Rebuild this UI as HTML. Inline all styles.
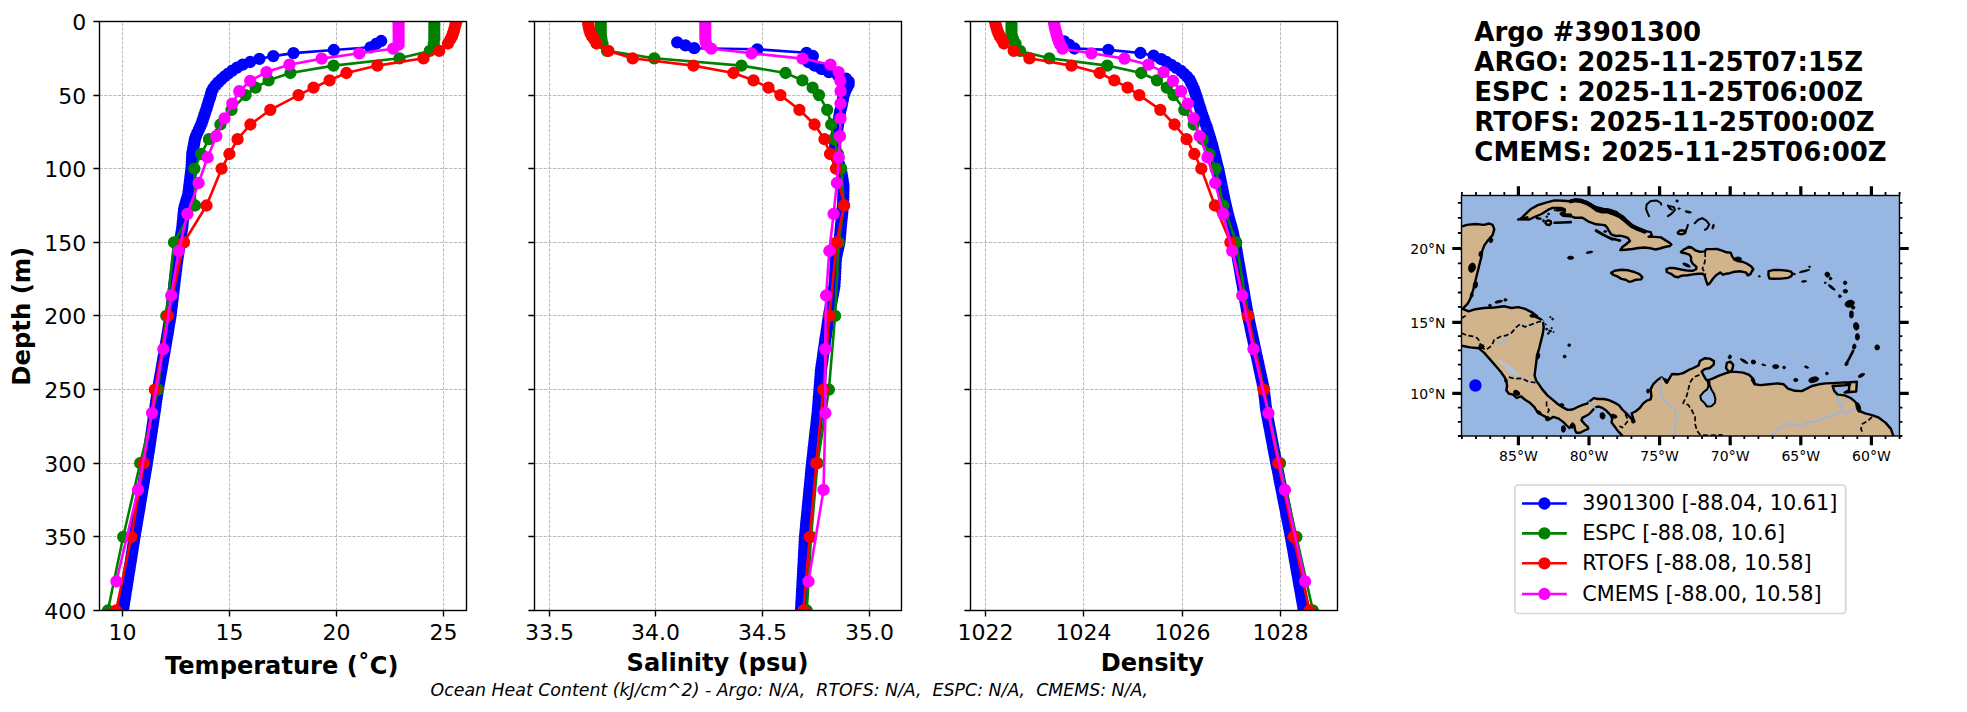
<!DOCTYPE html>
<html lang="en"><head><meta charset="utf-8"><title>Argo #3901300</title>
<style>html,body{margin:0;padding:0;background:#fff}svg{display:block}</style></head>
<body>
<svg width="1967" height="712" viewBox="0 0 1967 712" font-family="'DejaVu Sans', 'Liberation Sans', sans-serif">
<rect width="1967" height="712" fill="#fff"/>
<clipPath id="c0"><rect x="99.5" y="21.5" width="367.0" height="589.0"/></clipPath>
<path d="M122.50 610.5V21.5M229.50 610.5V21.5M336.50 610.5V21.5M443.50 610.5V21.5M99.5 95.50H466.5M99.5 168.50H466.5M99.5 242.50H466.5M99.5 315.50H466.5M99.5 389.50H466.5M99.5 463.50H466.5M99.5 536.50H466.5" stroke="#b0b0b0" stroke-width="0.87" stroke-dasharray="3.2 1.4" fill="none"/>
<g clip-path="url(#c0)">
<polyline fill="none" stroke="#0000ff" stroke-width="2.60" stroke-linejoin="round" points="381.2,41.0 376.5,43.7 370.5,47.3 333.8,50.0 293.5,53.1 273.3,56.1 259.4,58.9 250.2,62.0 242.7,64.7 237.0,67.7 232.3,70.6 228.2,73.6 224.6,76.5 221.2,79.5 218.2,82.4 215.5,85.4 213.3,88.3 211.7,91.3 210.9,94.2 210.1,97.2 209.1,100.1 208.2,103.1 207.3,106.0 206.4,109.0 205.4,111.9 204.4,114.9 203.5,117.8 202.5,120.8 201.5,123.7 200.2,126.7 198.9,129.6 197.5,132.6 196.2,135.5 195.1,138.5 194.5,141.4 194.0,144.4 193.4,147.3 192.9,150.3 192.3,153.2 192.1,156.2 192.0,159.1 191.8,162.1 191.7,165.0 191.5,168.0 191.2,170.9 190.8,173.9 190.4,176.8 190.1,179.8 189.7,182.7 189.3,185.7 189.0,188.6 188.6,191.6 188.2,194.5 187.3,197.5 186.4,200.4 185.6,203.4 184.7,206.3 184.1,209.3 183.8,212.2 183.5,215.2 183.2,218.1 182.9,221.1 182.6,224.0 182.3,227.0 181.9,229.9 181.4,232.9 181.0,235.8 180.5,238.8 180.0,241.7 179.6,244.7 179.1,247.6 178.7,250.6 178.2,253.5 177.8,256.5 177.4,259.4 177.0,262.4 176.6,265.3 176.3,268.3 175.9,271.2 175.6,274.2 175.2,277.1 174.9,280.1 174.5,283.0 174.2,286.0 173.8,288.9 173.5,291.9 173.1,294.8 172.8,297.8 172.4,300.7 172.0,303.7 171.7,306.6 171.3,309.6 171.0,312.5 170.6,315.5 170.1,318.4 169.6,321.4 169.1,324.3 168.6,327.3 168.2,330.2 167.7,333.2 167.2,336.1 166.7,339.1 166.2,342.0 165.7,345.0 165.2,347.9 164.7,350.9 164.2,353.8 163.6,356.8 163.1,359.7 162.6,362.7 162.1,365.6 161.6,368.6 161.1,371.5 160.5,374.5 160.0,377.4 159.5,380.4 159.0,383.3 158.5,386.3 158.0,389.2 157.5,392.2 157.1,395.1 156.7,398.1 156.2,401.0 155.8,404.0 155.4,406.9 155.0,409.9 154.5,412.8 154.1,415.8 153.6,418.7 153.2,421.7 152.8,424.6 152.3,427.6 151.9,430.5 151.4,433.5 151.0,436.4 150.5,439.4 150.1,442.3 149.7,445.3 149.2,448.2 148.8,451.2 148.3,454.1 147.9,457.1 147.4,460.0 147.0,463.0 146.5,465.9 146.0,468.9 145.5,471.8 145.0,474.8 144.5,477.7 144.0,480.7 143.5,483.6 143.0,486.6 142.5,489.5 142.0,492.5 141.5,495.4 141.0,498.4 140.5,501.3 140.0,504.3 139.6,507.2 139.1,510.2 138.6,513.1 138.1,516.1 137.6,519.0 137.1,522.0 136.6,524.9 136.1,527.9 135.6,530.8 135.1,533.8 134.6,536.7 134.1,539.7 133.7,542.6 133.2,545.6 132.7,548.5 132.3,551.5 131.8,554.4 131.3,557.4 130.9,560.3 130.4,563.3 129.9,566.2 129.5,569.2 129.0,572.1 128.5,575.1 128.1,578.0 127.6,581.0 127.1,583.9 126.7,586.9 126.2,589.8 125.7,592.8 125.3,595.7 124.8,598.7 124.3,601.6 123.9,604.6 123.4,607.5"/><path d="M381.2 41.0h0M376.5 43.7h0M370.5 47.3h0M333.8 50.0h0M293.5 53.1h0M273.3 56.1h0M259.4 58.9h0M250.2 62.0h0M242.7 64.7h0M237.0 67.7h0M232.3 70.6h0M228.2 73.6h0M224.6 76.5h0M221.2 79.5h0M218.2 82.4h0M215.5 85.4h0M213.3 88.3h0M211.7 91.3h0M210.9 94.2h0M210.1 97.2h0M209.1 100.1h0M208.2 103.1h0M207.3 106.0h0M206.4 109.0h0M205.4 111.9h0M204.4 114.9h0M203.5 117.8h0M202.5 120.8h0M201.5 123.7h0M200.2 126.7h0M198.9 129.6h0M197.5 132.6h0M196.2 135.5h0M195.1 138.5h0M194.5 141.4h0M194.0 144.4h0M193.4 147.3h0M192.9 150.3h0M192.3 153.2h0M192.1 156.2h0M192.0 159.1h0M191.8 162.1h0M191.7 165.0h0M191.5 168.0h0M191.2 170.9h0M190.8 173.9h0M190.4 176.8h0M190.1 179.8h0M189.7 182.7h0M189.3 185.7h0M189.0 188.6h0M188.6 191.6h0M188.2 194.5h0M187.3 197.5h0M186.4 200.4h0M185.6 203.4h0M184.7 206.3h0M184.1 209.3h0M183.8 212.2h0M183.5 215.2h0M183.2 218.1h0M182.9 221.1h0M182.6 224.0h0M182.3 227.0h0M181.9 229.9h0M181.4 232.9h0M181.0 235.8h0M180.5 238.8h0M180.0 241.7h0M179.6 244.7h0M179.1 247.6h0M178.7 250.6h0M178.2 253.5h0M177.8 256.5h0M177.4 259.4h0M177.0 262.4h0M176.6 265.3h0M176.3 268.3h0M175.9 271.2h0M175.6 274.2h0M175.2 277.1h0M174.9 280.1h0M174.5 283.0h0M174.2 286.0h0M173.8 288.9h0M173.5 291.9h0M173.1 294.8h0M172.8 297.8h0M172.4 300.7h0M172.0 303.7h0M171.7 306.6h0M171.3 309.6h0M171.0 312.5h0M170.6 315.5h0M170.1 318.4h0M169.6 321.4h0M169.1 324.3h0M168.6 327.3h0M168.2 330.2h0M167.7 333.2h0M167.2 336.1h0M166.7 339.1h0M166.2 342.0h0M165.7 345.0h0M165.2 347.9h0M164.7 350.9h0M164.2 353.8h0M163.6 356.8h0M163.1 359.7h0M162.6 362.7h0M162.1 365.6h0M161.6 368.6h0M161.1 371.5h0M160.5 374.5h0M160.0 377.4h0M159.5 380.4h0M159.0 383.3h0M158.5 386.3h0M158.0 389.2h0M157.5 392.2h0M157.1 395.1h0M156.7 398.1h0M156.2 401.0h0M155.8 404.0h0M155.4 406.9h0M155.0 409.9h0M154.5 412.8h0M154.1 415.8h0M153.6 418.7h0M153.2 421.7h0M152.8 424.6h0M152.3 427.6h0M151.9 430.5h0M151.4 433.5h0M151.0 436.4h0M150.5 439.4h0M150.1 442.3h0M149.7 445.3h0M149.2 448.2h0M148.8 451.2h0M148.3 454.1h0M147.9 457.1h0M147.4 460.0h0M147.0 463.0h0M146.5 465.9h0M146.0 468.9h0M145.5 471.8h0M145.0 474.8h0M144.5 477.7h0M144.0 480.7h0M143.5 483.6h0M143.0 486.6h0M142.5 489.5h0M142.0 492.5h0M141.5 495.4h0M141.0 498.4h0M140.5 501.3h0M140.0 504.3h0M139.6 507.2h0M139.1 510.2h0M138.6 513.1h0M138.1 516.1h0M137.6 519.0h0M137.1 522.0h0M136.6 524.9h0M136.1 527.9h0M135.6 530.8h0M135.1 533.8h0M134.6 536.7h0M134.1 539.7h0M133.7 542.6h0M133.2 545.6h0M132.7 548.5h0M132.3 551.5h0M131.8 554.4h0M131.3 557.4h0M130.9 560.3h0M130.4 563.3h0M129.9 566.2h0M129.5 569.2h0M129.0 572.1h0M128.5 575.1h0M128.1 578.0h0M127.6 581.0h0M127.1 583.9h0M126.7 586.9h0M126.2 589.8h0M125.7 592.8h0M125.3 595.7h0M124.8 598.7h0M124.3 601.6h0M123.9 604.6h0M123.4 607.5h0" fill="none" stroke="#0000ff" stroke-width="12.30" stroke-linecap="round"/>
<polyline fill="none" stroke="#008000" stroke-width="2.60" stroke-linejoin="round" points="434.3,21.4 434.3,24.4 434.3,27.3 434.3,30.3 434.3,33.2 434.3,36.2 434.3,39.1 433.8,43.5 429.8,50.9 399.5,58.3 333.5,65.6 290.4,73.0 268.6,80.3 255.6,87.7 245.6,95.1 231.5,109.8 220.4,124.5 209.0,139.2 201.1,154.0 194.4,168.7 195.1,205.5 174.0,242.3 166.3,315.9 158.0,389.6 140.2,463.2 123.2,536.8 107.9,610.5"/><path d="M434.3 21.4h0M434.3 24.4h0M434.3 27.3h0M434.3 30.3h0M434.3 33.2h0M434.3 36.2h0M434.3 39.1h0M433.8 43.5h0M429.8 50.9h0M399.5 58.3h0M333.5 65.6h0M290.4 73.0h0M268.6 80.3h0M255.6 87.7h0M245.6 95.1h0M231.5 109.8h0M220.4 124.5h0M209.0 139.2h0M201.1 154.0h0M194.4 168.7h0M195.1 205.5h0M174.0 242.3h0M166.3 315.9h0M158.0 389.6h0M140.2 463.2h0M123.2 536.8h0M107.9 610.5h0" fill="none" stroke="#008000" stroke-width="12.30" stroke-linecap="round"/>
<polyline fill="none" stroke="#ff0000" stroke-width="2.60" stroke-linejoin="round" points="456.4,21.4 455.6,24.4 454.8,27.3 454.0,30.3 453.0,33.2 452.0,36.2 450.5,39.1 448.0,43.5 439.3,50.9 423.5,58.3 377.4,65.6 346.4,73.0 329.6,80.3 313.5,87.7 298.5,95.1 270.3,109.8 250.4,124.5 237.6,139.2 229.4,154.0 221.6,168.7 206.5,205.5 184.0,242.3 168.0,315.9 154.8,389.6 143.8,463.2 131.4,536.8 116.1,610.5"/><path d="M456.4 21.4h0M455.6 24.4h0M454.8 27.3h0M454.0 30.3h0M453.0 33.2h0M452.0 36.2h0M450.5 39.1h0M448.0 43.5h0M439.3 50.9h0M423.5 58.3h0M377.4 65.6h0M346.4 73.0h0M329.6 80.3h0M313.5 87.7h0M298.5 95.1h0M270.3 109.8h0M250.4 124.5h0M237.6 139.2h0M229.4 154.0h0M221.6 168.7h0M206.5 205.5h0M184.0 242.3h0M168.0 315.9h0M154.8 389.6h0M143.8 463.2h0M131.4 536.8h0M116.1 610.5h0" fill="none" stroke="#ff0000" stroke-width="12.30" stroke-linecap="round"/>
<polyline fill="none" stroke="#ff00ff" stroke-width="2.60" stroke-linejoin="round" points="398.6,22.2 398.6,23.7 398.6,25.4 398.6,27.1 398.6,28.9 398.6,30.9 398.6,33.1 398.6,35.5 398.6,38.2 398.6,41.3 398.6,44.7 393.2,48.7 359.3,53.3 321.7,58.6 289.4,64.7 266.5,72.1 250.2,80.8 239.3,91.2 232.3,103.6 224.5,118.3 216.3,136.2 207.6,157.4 198.6,183.0 187.4,213.9 178.7,251.0 171.2,295.5 163.3,349.1 152.0,413.1 138.0,489.9 116.4,581.3"/><path d="M398.6 22.2h0M398.6 23.7h0M398.6 25.4h0M398.6 27.1h0M398.6 28.9h0M398.6 30.9h0M398.6 33.1h0M398.6 35.5h0M398.6 38.2h0M398.6 41.3h0M398.6 44.7h0M393.2 48.7h0M359.3 53.3h0M321.7 58.6h0M289.4 64.7h0M266.5 72.1h0M250.2 80.8h0M239.3 91.2h0M232.3 103.6h0M224.5 118.3h0M216.3 136.2h0M207.6 157.4h0M198.6 183.0h0M187.4 213.9h0M178.7 251.0h0M171.2 295.5h0M163.3 349.1h0M152.0 413.1h0M138.0 489.9h0M116.4 581.3h0" fill="none" stroke="#ff00ff" stroke-width="12.30" stroke-linecap="round"/>
</g>
<rect x="99.5" y="21.5" width="367.0" height="589.0" fill="none" stroke="#000" stroke-width="1.39"/>
<path d="M122.50 610.5v6.1M229.50 610.5v6.1M336.50 610.5v6.1M443.50 610.5v6.1M99.5 21.50h-6.1M99.5 95.50h-6.1M99.5 168.50h-6.1M99.5 242.50h-6.1M99.5 315.50h-6.1M99.5 389.50h-6.1M99.5 463.50h-6.1M99.5 536.50h-6.1M99.5 610.50h-6.1" stroke="#000" stroke-width="1.39" fill="none"/>
<text x="122.5" y="639.8" font-size="22.0" text-anchor="middle">10</text>
<text x="229.5" y="639.8" font-size="22.0" text-anchor="middle">15</text>
<text x="336.5" y="639.8" font-size="22.0" text-anchor="middle">20</text>
<text x="443.5" y="639.8" font-size="22.0" text-anchor="middle">25</text>
<text x="86.3" y="30.4" font-size="22.0" text-anchor="end">0</text>
<text x="86.3" y="104.4" font-size="22.0" text-anchor="end">50</text>
<text x="86.3" y="177.4" font-size="22.0" text-anchor="end">100</text>
<text x="86.3" y="251.4" font-size="22.0" text-anchor="end">150</text>
<text x="86.3" y="324.4" font-size="22.0" text-anchor="end">200</text>
<text x="86.3" y="398.4" font-size="22.0" text-anchor="end">250</text>
<text x="86.3" y="472.4" font-size="22.0" text-anchor="end">300</text>
<text x="86.3" y="545.4" font-size="22.0" text-anchor="end">350</text>
<text x="86.3" y="619.4" font-size="22.0" text-anchor="end">400</text>
<text x="281.7" y="673.6" font-size="24.1" font-weight="bold" text-anchor="middle">Temperature (˚C)</text>
<clipPath id="c1"><rect x="534.5" y="21.5" width="367.0" height="589.0"/></clipPath>
<path d="M549.50 610.5V21.5M655.50 610.5V21.5M762.50 610.5V21.5M869.50 610.5V21.5M534.5 95.50H901.5M534.5 168.50H901.5M534.5 242.50H901.5M534.5 315.50H901.5M534.5 389.50H901.5M534.5 463.50H901.5M534.5 536.50H901.5" stroke="#b0b0b0" stroke-width="0.87" stroke-dasharray="3.2 1.4" fill="none"/>
<g clip-path="url(#c1)">
<polyline fill="none" stroke="#0000ff" stroke-width="2.60" stroke-linejoin="round" points="677.2,42.3 685.4,45.3 694.2,48.2 757.3,49.3 806.5,52.8 812.9,56.0 810.5,58.9 808.6,62.2 814.5,65.5 821.3,68.8 828.9,72.1 838.0,75.4 846.0,78.7 848.7,81.7 848.6,84.6 847.0,87.6 845.5,90.5 844.4,93.5 843.4,96.4 842.9,99.4 842.3,102.3 841.7,105.3 841.0,108.2 840.2,111.2 839.7,114.1 839.2,117.1 838.8,120.0 838.3,123.0 837.9,125.9 837.4,128.9 837.0,131.8 836.5,134.8 836.1,137.7 835.7,140.7 835.2,143.6 835.2,146.6 835.5,149.5 835.7,152.5 836.1,155.4 837.1,158.4 838.1,161.3 839.1,164.3 840.1,167.2 841.0,170.2 841.5,173.1 842.0,176.1 842.5,179.0 842.9,182.0 843.4,184.9 843.5,187.9 843.4,190.8 843.4,193.8 843.3,196.7 843.2,199.7 843.1,202.6 842.9,205.6 842.6,208.5 842.4,211.5 842.1,214.4 841.8,217.4 841.5,220.3 841.2,223.3 840.9,226.2 840.6,229.2 840.4,232.1 840.1,235.1 839.9,238.0 839.6,241.0 839.1,243.9 838.4,246.9 837.8,249.8 837.1,252.8 836.5,255.7 836.0,258.7 835.8,261.6 835.6,264.6 835.5,267.5 835.3,270.5 835.2,273.4 835.0,276.4 834.9,279.3 834.7,282.3 834.5,285.2 834.1,288.2 833.5,291.1 833.0,294.1 832.4,297.0 831.9,300.0 831.3,302.9 830.7,305.9 830.2,308.8 829.6,311.8 829.1,314.7 828.6,317.7 828.2,320.6 827.7,323.6 827.3,326.5 826.9,329.5 826.4,332.4 826.0,335.4 825.5,338.3 825.1,341.3 824.7,344.2 824.3,347.2 823.8,350.1 823.4,353.1 823.0,356.0 822.6,359.0 822.2,361.9 821.7,364.9 821.3,367.8 820.9,370.8 820.7,373.7 820.5,376.7 820.2,379.6 820.0,382.6 819.8,385.5 819.5,388.5 819.3,391.4 819.1,394.4 818.8,397.3 818.6,400.3 818.4,403.2 818.1,406.2 817.9,409.1 817.7,412.1 817.4,415.0 817.0,418.0 816.7,420.9 816.4,423.9 816.1,426.8 815.7,429.8 815.4,432.7 815.1,435.7 814.7,438.6 814.4,441.6 814.1,444.5 813.7,447.5 813.4,450.4 813.1,453.4 812.8,456.3 812.4,459.3 812.1,462.2 811.8,465.2 811.5,468.1 811.2,471.1 810.9,474.0 810.7,477.0 810.4,479.9 810.1,482.9 809.8,485.8 809.5,488.8 809.2,491.7 809.0,494.7 808.7,497.6 808.4,500.6 808.1,503.5 807.8,506.5 807.6,509.4 807.3,512.4 807.0,515.3 806.7,518.3 806.4,521.2 806.1,524.2 805.9,527.1 805.6,530.1 805.3,533.0 805.0,536.0 804.8,538.9 804.7,541.9 804.5,544.8 804.4,547.8 804.2,550.7 804.0,553.7 803.9,556.6 803.7,559.6 803.6,562.5 803.4,565.5 803.2,568.4 803.1,571.4 802.9,574.3 802.8,577.3 802.6,580.2 802.5,583.2 802.3,586.1 802.1,589.1 802.0,592.0 801.8,595.0 801.7,597.9 801.5,600.9 801.3,603.8 801.2,606.8 801.0,609.7"/><path d="M677.2 42.3h0M685.4 45.3h0M694.2 48.2h0M757.3 49.3h0M806.5 52.8h0M812.9 56.0h0M810.5 58.9h0M808.6 62.2h0M814.5 65.5h0M821.3 68.8h0M828.9 72.1h0M838.0 75.4h0M846.0 78.7h0M848.7 81.7h0M848.6 84.6h0M847.0 87.6h0M845.5 90.5h0M844.4 93.5h0M843.4 96.4h0M842.9 99.4h0M842.3 102.3h0M841.7 105.3h0M841.0 108.2h0M840.2 111.2h0M839.7 114.1h0M839.2 117.1h0M838.8 120.0h0M838.3 123.0h0M837.9 125.9h0M837.4 128.9h0M837.0 131.8h0M836.5 134.8h0M836.1 137.7h0M835.7 140.7h0M835.2 143.6h0M835.2 146.6h0M835.5 149.5h0M835.7 152.5h0M836.1 155.4h0M837.1 158.4h0M838.1 161.3h0M839.1 164.3h0M840.1 167.2h0M841.0 170.2h0M841.5 173.1h0M842.0 176.1h0M842.5 179.0h0M842.9 182.0h0M843.4 184.9h0M843.5 187.9h0M843.4 190.8h0M843.4 193.8h0M843.3 196.7h0M843.2 199.7h0M843.1 202.6h0M842.9 205.6h0M842.6 208.5h0M842.4 211.5h0M842.1 214.4h0M841.8 217.4h0M841.5 220.3h0M841.2 223.3h0M840.9 226.2h0M840.6 229.2h0M840.4 232.1h0M840.1 235.1h0M839.9 238.0h0M839.6 241.0h0M839.1 243.9h0M838.4 246.9h0M837.8 249.8h0M837.1 252.8h0M836.5 255.7h0M836.0 258.7h0M835.8 261.6h0M835.6 264.6h0M835.5 267.5h0M835.3 270.5h0M835.2 273.4h0M835.0 276.4h0M834.9 279.3h0M834.7 282.3h0M834.5 285.2h0M834.1 288.2h0M833.5 291.1h0M833.0 294.1h0M832.4 297.0h0M831.9 300.0h0M831.3 302.9h0M830.7 305.9h0M830.2 308.8h0M829.6 311.8h0M829.1 314.7h0M828.6 317.7h0M828.2 320.6h0M827.7 323.6h0M827.3 326.5h0M826.9 329.5h0M826.4 332.4h0M826.0 335.4h0M825.5 338.3h0M825.1 341.3h0M824.7 344.2h0M824.3 347.2h0M823.8 350.1h0M823.4 353.1h0M823.0 356.0h0M822.6 359.0h0M822.2 361.9h0M821.7 364.9h0M821.3 367.8h0M820.9 370.8h0M820.7 373.7h0M820.5 376.7h0M820.2 379.6h0M820.0 382.6h0M819.8 385.5h0M819.5 388.5h0M819.3 391.4h0M819.1 394.4h0M818.8 397.3h0M818.6 400.3h0M818.4 403.2h0M818.1 406.2h0M817.9 409.1h0M817.7 412.1h0M817.4 415.0h0M817.0 418.0h0M816.7 420.9h0M816.4 423.9h0M816.1 426.8h0M815.7 429.8h0M815.4 432.7h0M815.1 435.7h0M814.7 438.6h0M814.4 441.6h0M814.1 444.5h0M813.7 447.5h0M813.4 450.4h0M813.1 453.4h0M812.8 456.3h0M812.4 459.3h0M812.1 462.2h0M811.8 465.2h0M811.5 468.1h0M811.2 471.1h0M810.9 474.0h0M810.7 477.0h0M810.4 479.9h0M810.1 482.9h0M809.8 485.8h0M809.5 488.8h0M809.2 491.7h0M809.0 494.7h0M808.7 497.6h0M808.4 500.6h0M808.1 503.5h0M807.8 506.5h0M807.6 509.4h0M807.3 512.4h0M807.0 515.3h0M806.7 518.3h0M806.4 521.2h0M806.1 524.2h0M805.9 527.1h0M805.6 530.1h0M805.3 533.0h0M805.0 536.0h0M804.8 538.9h0M804.7 541.9h0M804.5 544.8h0M804.4 547.8h0M804.2 550.7h0M804.0 553.7h0M803.9 556.6h0M803.7 559.6h0M803.6 562.5h0M803.4 565.5h0M803.2 568.4h0M803.1 571.4h0M802.9 574.3h0M802.8 577.3h0M802.6 580.2h0M802.5 583.2h0M802.3 586.1h0M802.1 589.1h0M802.0 592.0h0M801.8 595.0h0M801.7 597.9h0M801.5 600.9h0M801.3 603.8h0M801.2 606.8h0M801.0 609.7h0" fill="none" stroke="#0000ff" stroke-width="12.30" stroke-linecap="round"/>
<polyline fill="none" stroke="#008000" stroke-width="2.60" stroke-linejoin="round" points="600.8,21.4 600.8,24.4 600.8,27.3 600.8,30.3 600.8,33.2 601.0,36.2 601.5,39.1 602.5,43.5 607.0,50.9 654.3,58.3 741.4,65.6 785.5,73.0 802.4,80.3 812.6,87.7 819.0,95.1 827.2,109.8 831.2,124.5 834.0,139.2 838.0,154.0 841.2,168.7 844.0,205.5 838.7,242.3 835.1,315.9 828.9,389.6 817.5,463.2 811.0,536.8 806.8,610.5"/><path d="M600.8 21.4h0M600.8 24.4h0M600.8 27.3h0M600.8 30.3h0M600.8 33.2h0M601.0 36.2h0M601.5 39.1h0M602.5 43.5h0M607.0 50.9h0M654.3 58.3h0M741.4 65.6h0M785.5 73.0h0M802.4 80.3h0M812.6 87.7h0M819.0 95.1h0M827.2 109.8h0M831.2 124.5h0M834.0 139.2h0M838.0 154.0h0M841.2 168.7h0M844.0 205.5h0M838.7 242.3h0M835.1 315.9h0M828.9 389.6h0M817.5 463.2h0M811.0 536.8h0M806.8 610.5h0" fill="none" stroke="#008000" stroke-width="12.30" stroke-linecap="round"/>
<polyline fill="none" stroke="#ff0000" stroke-width="2.60" stroke-linejoin="round" points="588.0,21.4 588.3,24.4 588.8,27.3 589.5,30.3 590.5,33.2 592.0,36.2 594.0,39.1 596.5,43.5 608.4,50.9 632.6,58.3 693.4,65.6 733.4,73.0 753.5,80.3 768.5,87.7 780.4,95.1 799.4,109.8 814.5,124.5 824.5,139.2 830.0,154.0 836.0,168.7 844.1,205.5 836.7,242.3 829.4,315.9 823.3,389.6 816.3,463.2 809.7,536.8 803.4,610.5"/><path d="M588.0 21.4h0M588.3 24.4h0M588.8 27.3h0M589.5 30.3h0M590.5 33.2h0M592.0 36.2h0M594.0 39.1h0M596.5 43.5h0M608.4 50.9h0M632.6 58.3h0M693.4 65.6h0M733.4 73.0h0M753.5 80.3h0M768.5 87.7h0M780.4 95.1h0M799.4 109.8h0M814.5 124.5h0M824.5 139.2h0M830.0 154.0h0M836.0 168.7h0M844.1 205.5h0M836.7 242.3h0M829.4 315.9h0M823.3 389.6h0M816.3 463.2h0M809.7 536.8h0M803.4 610.5h0" fill="none" stroke="#ff0000" stroke-width="12.30" stroke-linecap="round"/>
<polyline fill="none" stroke="#ff00ff" stroke-width="2.60" stroke-linejoin="round" points="705.3,22.2 705.3,23.7 705.3,25.4 705.3,27.1 705.3,28.9 705.3,30.9 705.3,33.1 705.3,35.5 705.3,38.2 705.6,41.3 706.5,44.7 711.2,48.7 751.5,53.3 802.5,58.6 830.5,64.7 838.6,72.1 840.3,80.8 840.6,91.2 840.5,103.6 840.5,118.3 840.0,136.2 838.8,157.4 836.9,183.0 833.6,213.9 829.3,251.0 826.1,295.5 825.2,349.1 825.4,413.1 823.5,489.9 808.5,581.3"/><path d="M705.3 22.2h0M705.3 23.7h0M705.3 25.4h0M705.3 27.1h0M705.3 28.9h0M705.3 30.9h0M705.3 33.1h0M705.3 35.5h0M705.3 38.2h0M705.6 41.3h0M706.5 44.7h0M711.2 48.7h0M751.5 53.3h0M802.5 58.6h0M830.5 64.7h0M838.6 72.1h0M840.3 80.8h0M840.6 91.2h0M840.5 103.6h0M840.5 118.3h0M840.0 136.2h0M838.8 157.4h0M836.9 183.0h0M833.6 213.9h0M829.3 251.0h0M826.1 295.5h0M825.2 349.1h0M825.4 413.1h0M823.5 489.9h0M808.5 581.3h0" fill="none" stroke="#ff00ff" stroke-width="12.30" stroke-linecap="round"/>
</g>
<rect x="534.5" y="21.5" width="367.0" height="589.0" fill="none" stroke="#000" stroke-width="1.39"/>
<path d="M549.50 610.5v6.1M655.50 610.5v6.1M762.50 610.5v6.1M869.50 610.5v6.1M534.5 21.50h-6.1M534.5 95.50h-6.1M534.5 168.50h-6.1M534.5 242.50h-6.1M534.5 315.50h-6.1M534.5 389.50h-6.1M534.5 463.50h-6.1M534.5 536.50h-6.1M534.5 610.50h-6.1" stroke="#000" stroke-width="1.39" fill="none"/>
<text x="549.5" y="639.8" font-size="22.0" text-anchor="middle">33.5</text>
<text x="655.5" y="639.8" font-size="22.0" text-anchor="middle">34.0</text>
<text x="762.5" y="639.8" font-size="22.0" text-anchor="middle">34.5</text>
<text x="869.5" y="639.8" font-size="22.0" text-anchor="middle">35.0</text>
<text x="717.5" y="670.8" font-size="24.1" font-weight="bold" text-anchor="middle">Salinity (psu)</text>
<clipPath id="c2"><rect x="970.5" y="21.5" width="367.0" height="589.0"/></clipPath>
<path d="M985.50 610.5V21.5M1083.50 610.5V21.5M1182.50 610.5V21.5M1280.50 610.5V21.5M970.5 95.50H1337.5M970.5 168.50H1337.5M970.5 242.50H1337.5M970.5 315.50H1337.5M970.5 389.50H1337.5M970.5 463.50H1337.5M970.5 536.50H1337.5" stroke="#b0b0b0" stroke-width="0.87" stroke-dasharray="3.2 1.4" fill="none"/>
<g clip-path="url(#c2)">
<polyline fill="none" stroke="#0000ff" stroke-width="2.60" stroke-linejoin="round" points="1064.2,41.4 1069.3,44.8 1074.4,48.5 1108.4,49.9 1140.4,53.0 1153.6,55.6 1161.2,59.2 1166.5,62.0 1171.5,65.0 1176.2,67.9 1181.0,70.9 1184.2,73.8 1187.3,76.8 1189.6,79.7 1191.0,82.7 1192.4,85.6 1193.8,88.6 1194.8,91.5 1195.8,94.5 1196.8,97.4 1197.7,100.4 1198.6,103.3 1199.6,106.3 1200.5,109.2 1201.4,112.2 1202.4,115.1 1203.5,118.1 1204.5,121.0 1205.6,124.0 1206.7,126.9 1207.6,129.9 1208.5,132.8 1209.4,135.8 1210.3,138.7 1211.1,141.7 1212.0,144.6 1212.8,147.6 1213.5,150.5 1214.3,153.5 1215.1,156.4 1215.8,159.4 1216.5,162.3 1217.2,165.3 1218.0,168.2 1218.7,171.2 1219.3,174.1 1219.9,177.1 1220.5,180.0 1221.1,183.0 1221.7,185.9 1222.3,188.9 1222.9,191.8 1223.5,194.8 1224.1,197.7 1224.7,200.7 1225.4,203.6 1226.1,206.6 1226.8,209.5 1227.5,212.5 1228.3,215.4 1229.0,218.4 1229.8,221.3 1230.7,224.3 1231.5,227.2 1232.3,230.2 1233.0,233.1 1233.6,236.1 1234.3,239.0 1234.9,242.0 1235.5,244.9 1236.1,247.9 1236.6,250.8 1237.1,253.8 1237.6,256.7 1238.1,259.7 1238.6,262.6 1239.2,265.6 1239.7,268.5 1240.2,271.5 1240.7,274.4 1241.2,277.4 1241.7,280.3 1242.3,283.3 1242.8,286.2 1243.3,289.2 1243.8,292.1 1244.3,295.1 1244.8,298.0 1245.3,301.0 1245.9,303.9 1246.4,306.9 1246.9,309.8 1247.4,312.8 1248.0,315.7 1248.6,318.7 1249.2,321.6 1249.9,324.6 1250.5,327.5 1251.1,330.5 1251.8,333.4 1252.4,336.4 1253.1,339.3 1253.7,342.3 1254.3,345.2 1255.0,348.2 1255.6,351.1 1256.2,354.1 1256.9,357.0 1257.5,360.0 1258.2,362.9 1258.8,365.9 1259.4,368.8 1260.1,371.8 1260.7,374.7 1261.3,377.7 1262.0,380.6 1262.6,383.6 1263.3,386.5 1263.9,389.5 1264.2,392.4 1264.5,395.4 1264.9,398.3 1265.2,401.3 1265.5,404.2 1265.9,407.2 1266.2,410.1 1266.8,413.1 1267.3,416.0 1267.9,419.0 1268.5,421.9 1269.0,424.9 1269.6,427.8 1270.2,430.8 1270.7,433.7 1271.3,436.7 1271.8,439.6 1272.4,442.6 1273.0,445.5 1273.5,448.5 1274.1,451.4 1274.7,454.4 1275.2,457.3 1275.8,460.3 1276.3,463.2 1276.9,466.2 1277.5,469.1 1278.1,472.1 1278.7,475.0 1279.2,478.0 1279.8,480.9 1280.4,483.9 1281.0,486.8 1281.6,489.8 1282.2,492.7 1282.7,495.7 1283.3,498.6 1283.9,501.6 1284.5,504.5 1285.1,507.5 1285.7,510.4 1286.2,513.4 1286.8,516.3 1287.4,519.3 1288.0,522.2 1288.6,525.2 1289.1,528.1 1289.7,531.1 1290.3,534.0 1290.9,537.0 1291.4,539.9 1291.9,542.9 1292.4,545.8 1293.0,548.8 1293.5,551.7 1294.0,554.7 1294.5,557.6 1295.0,560.6 1295.6,563.5 1296.1,566.5 1296.6,569.4 1297.1,572.4 1297.7,575.3 1298.2,578.3 1298.7,581.2 1299.2,584.2 1299.7,587.1 1300.3,590.1 1300.8,593.0 1301.3,596.0 1301.8,598.9 1302.4,601.9 1302.9,604.8 1303.4,607.8"/><path d="M1064.2 41.4h0M1069.3 44.8h0M1074.4 48.5h0M1108.4 49.9h0M1140.4 53.0h0M1153.6 55.6h0M1161.2 59.2h0M1166.5 62.0h0M1171.5 65.0h0M1176.2 67.9h0M1181.0 70.9h0M1184.2 73.8h0M1187.3 76.8h0M1189.6 79.7h0M1191.0 82.7h0M1192.4 85.6h0M1193.8 88.6h0M1194.8 91.5h0M1195.8 94.5h0M1196.8 97.4h0M1197.7 100.4h0M1198.6 103.3h0M1199.6 106.3h0M1200.5 109.2h0M1201.4 112.2h0M1202.4 115.1h0M1203.5 118.1h0M1204.5 121.0h0M1205.6 124.0h0M1206.7 126.9h0M1207.6 129.9h0M1208.5 132.8h0M1209.4 135.8h0M1210.3 138.7h0M1211.1 141.7h0M1212.0 144.6h0M1212.8 147.6h0M1213.5 150.5h0M1214.3 153.5h0M1215.1 156.4h0M1215.8 159.4h0M1216.5 162.3h0M1217.2 165.3h0M1218.0 168.2h0M1218.7 171.2h0M1219.3 174.1h0M1219.9 177.1h0M1220.5 180.0h0M1221.1 183.0h0M1221.7 185.9h0M1222.3 188.9h0M1222.9 191.8h0M1223.5 194.8h0M1224.1 197.7h0M1224.7 200.7h0M1225.4 203.6h0M1226.1 206.6h0M1226.8 209.5h0M1227.5 212.5h0M1228.3 215.4h0M1229.0 218.4h0M1229.8 221.3h0M1230.7 224.3h0M1231.5 227.2h0M1232.3 230.2h0M1233.0 233.1h0M1233.6 236.1h0M1234.3 239.0h0M1234.9 242.0h0M1235.5 244.9h0M1236.1 247.9h0M1236.6 250.8h0M1237.1 253.8h0M1237.6 256.7h0M1238.1 259.7h0M1238.6 262.6h0M1239.2 265.6h0M1239.7 268.5h0M1240.2 271.5h0M1240.7 274.4h0M1241.2 277.4h0M1241.7 280.3h0M1242.3 283.3h0M1242.8 286.2h0M1243.3 289.2h0M1243.8 292.1h0M1244.3 295.1h0M1244.8 298.0h0M1245.3 301.0h0M1245.9 303.9h0M1246.4 306.9h0M1246.9 309.8h0M1247.4 312.8h0M1248.0 315.7h0M1248.6 318.7h0M1249.2 321.6h0M1249.9 324.6h0M1250.5 327.5h0M1251.1 330.5h0M1251.8 333.4h0M1252.4 336.4h0M1253.1 339.3h0M1253.7 342.3h0M1254.3 345.2h0M1255.0 348.2h0M1255.6 351.1h0M1256.2 354.1h0M1256.9 357.0h0M1257.5 360.0h0M1258.2 362.9h0M1258.8 365.9h0M1259.4 368.8h0M1260.1 371.8h0M1260.7 374.7h0M1261.3 377.7h0M1262.0 380.6h0M1262.6 383.6h0M1263.3 386.5h0M1263.9 389.5h0M1264.2 392.4h0M1264.5 395.4h0M1264.9 398.3h0M1265.2 401.3h0M1265.5 404.2h0M1265.9 407.2h0M1266.2 410.1h0M1266.8 413.1h0M1267.3 416.0h0M1267.9 419.0h0M1268.5 421.9h0M1269.0 424.9h0M1269.6 427.8h0M1270.2 430.8h0M1270.7 433.7h0M1271.3 436.7h0M1271.8 439.6h0M1272.4 442.6h0M1273.0 445.5h0M1273.5 448.5h0M1274.1 451.4h0M1274.7 454.4h0M1275.2 457.3h0M1275.8 460.3h0M1276.3 463.2h0M1276.9 466.2h0M1277.5 469.1h0M1278.1 472.1h0M1278.7 475.0h0M1279.2 478.0h0M1279.8 480.9h0M1280.4 483.9h0M1281.0 486.8h0M1281.6 489.8h0M1282.2 492.7h0M1282.7 495.7h0M1283.3 498.6h0M1283.9 501.6h0M1284.5 504.5h0M1285.1 507.5h0M1285.7 510.4h0M1286.2 513.4h0M1286.8 516.3h0M1287.4 519.3h0M1288.0 522.2h0M1288.6 525.2h0M1289.1 528.1h0M1289.7 531.1h0M1290.3 534.0h0M1290.9 537.0h0M1291.4 539.9h0M1291.9 542.9h0M1292.4 545.8h0M1293.0 548.8h0M1293.5 551.7h0M1294.0 554.7h0M1294.5 557.6h0M1295.0 560.6h0M1295.6 563.5h0M1296.1 566.5h0M1296.6 569.4h0M1297.1 572.4h0M1297.7 575.3h0M1298.2 578.3h0M1298.7 581.2h0M1299.2 584.2h0M1299.7 587.1h0M1300.3 590.1h0M1300.8 593.0h0M1301.3 596.0h0M1301.8 598.9h0M1302.4 601.9h0M1302.9 604.8h0M1303.4 607.8h0" fill="none" stroke="#0000ff" stroke-width="12.30" stroke-linecap="round"/>
<polyline fill="none" stroke="#008000" stroke-width="2.60" stroke-linejoin="round" points="1011.5,21.4 1011.5,24.4 1011.5,27.3 1011.5,30.3 1011.5,33.2 1012.0,36.2 1013.0,39.1 1015.5,43.5 1020.0,50.9 1049.3,58.3 1107.2,65.6 1141.2,73.0 1157.0,80.3 1166.8,87.7 1173.5,95.1 1184.3,109.8 1193.7,124.5 1202.5,139.2 1209.3,154.0 1215.8,168.7 1223.2,205.5 1236.2,242.3 1248.4,315.9 1264.0,389.6 1280.0,463.2 1296.4,536.8 1312.9,610.5"/><path d="M1011.5 21.4h0M1011.5 24.4h0M1011.5 27.3h0M1011.5 30.3h0M1011.5 33.2h0M1012.0 36.2h0M1013.0 39.1h0M1015.5 43.5h0M1020.0 50.9h0M1049.3 58.3h0M1107.2 65.6h0M1141.2 73.0h0M1157.0 80.3h0M1166.8 87.7h0M1173.5 95.1h0M1184.3 109.8h0M1193.7 124.5h0M1202.5 139.2h0M1209.3 154.0h0M1215.8 168.7h0M1223.2 205.5h0M1236.2 242.3h0M1248.4 315.9h0M1264.0 389.6h0M1280.0 463.2h0M1296.4 536.8h0M1312.9 610.5h0" fill="none" stroke="#008000" stroke-width="12.30" stroke-linecap="round"/>
<polyline fill="none" stroke="#ff0000" stroke-width="2.60" stroke-linejoin="round" points="995.0,21.4 995.6,24.4 996.4,27.3 997.3,30.3 998.4,33.2 999.8,36.2 1001.5,39.1 1003.9,43.5 1013.7,50.9 1029.4,58.3 1071.5,65.6 1099.6,73.0 1114.3,80.3 1127.6,87.7 1139.3,95.1 1160.3,109.8 1174.5,124.5 1186.6,139.2 1194.3,154.0 1201.3,168.7 1214.9,205.5 1230.4,242.3 1247.8,315.9 1263.5,389.6 1278.3,463.2 1293.5,536.8 1309.4,610.5"/><path d="M995.0 21.4h0M995.6 24.4h0M996.4 27.3h0M997.3 30.3h0M998.4 33.2h0M999.8 36.2h0M1001.5 39.1h0M1003.9 43.5h0M1013.7 50.9h0M1029.4 58.3h0M1071.5 65.6h0M1099.6 73.0h0M1114.3 80.3h0M1127.6 87.7h0M1139.3 95.1h0M1160.3 109.8h0M1174.5 124.5h0M1186.6 139.2h0M1194.3 154.0h0M1201.3 168.7h0M1214.9 205.5h0M1230.4 242.3h0M1247.8 315.9h0M1263.5 389.6h0M1278.3 463.2h0M1293.5 536.8h0M1309.4 610.5h0" fill="none" stroke="#ff0000" stroke-width="12.30" stroke-linecap="round"/>
<polyline fill="none" stroke="#ff00ff" stroke-width="2.60" stroke-linejoin="round" points="1054.0,22.2 1054.2,23.7 1054.5,25.4 1054.8,27.1 1055.2,28.9 1055.7,30.9 1056.3,33.1 1057.0,35.5 1057.8,38.2 1058.8,41.3 1060.2,44.7 1062.5,48.7 1091.4,53.3 1124.5,58.6 1148.4,64.7 1163.6,72.1 1173.0,80.8 1181.0,91.2 1187.8,103.6 1193.7,118.3 1199.6,136.2 1207.5,157.4 1215.2,183.0 1223.2,213.9 1232.2,251.0 1242.2,295.5 1253.4,349.1 1268.4,413.1 1284.9,489.9 1305.1,581.3"/><path d="M1054.0 22.2h0M1054.2 23.7h0M1054.5 25.4h0M1054.8 27.1h0M1055.2 28.9h0M1055.7 30.9h0M1056.3 33.1h0M1057.0 35.5h0M1057.8 38.2h0M1058.8 41.3h0M1060.2 44.7h0M1062.5 48.7h0M1091.4 53.3h0M1124.5 58.6h0M1148.4 64.7h0M1163.6 72.1h0M1173.0 80.8h0M1181.0 91.2h0M1187.8 103.6h0M1193.7 118.3h0M1199.6 136.2h0M1207.5 157.4h0M1215.2 183.0h0M1223.2 213.9h0M1232.2 251.0h0M1242.2 295.5h0M1253.4 349.1h0M1268.4 413.1h0M1284.9 489.9h0M1305.1 581.3h0" fill="none" stroke="#ff00ff" stroke-width="12.30" stroke-linecap="round"/>
</g>
<rect x="970.5" y="21.5" width="367.0" height="589.0" fill="none" stroke="#000" stroke-width="1.39"/>
<path d="M985.50 610.5v6.1M1083.50 610.5v6.1M1182.50 610.5v6.1M1280.50 610.5v6.1M970.5 21.50h-6.1M970.5 95.50h-6.1M970.5 168.50h-6.1M970.5 242.50h-6.1M970.5 315.50h-6.1M970.5 389.50h-6.1M970.5 463.50h-6.1M970.5 536.50h-6.1M970.5 610.50h-6.1" stroke="#000" stroke-width="1.39" fill="none"/>
<text x="985.5" y="639.8" font-size="22.0" text-anchor="middle">1022</text>
<text x="1083.5" y="639.8" font-size="22.0" text-anchor="middle">1024</text>
<text x="1182.5" y="639.8" font-size="22.0" text-anchor="middle">1026</text>
<text x="1280.5" y="639.8" font-size="22.0" text-anchor="middle">1028</text>
<text x="1152.4" y="670.8" font-size="24.1" font-weight="bold" text-anchor="middle">Density</text>
<text transform="translate(29.9 316.3) rotate(-90)" font-size="24.3" font-weight="bold" text-anchor="middle">Depth (m)</text>
<text x="430.5" y="695.7" font-size="17.36" font-style="italic" style="white-space:pre">Ocean Heat Content (kJ/cm^2) - Argo: N/A,  RTOFS: N/A,  ESPC: N/A,  CMEMS: N/A,  </text>
<text x="1474.3" y="40.6" font-size="26.0" font-weight="bold">Argo #3901300</text>
<text x="1474.3" y="70.6" font-size="26.0" font-weight="bold">ARGO: 2025-11-25T07:15Z</text>
<text x="1474.3" y="100.6" font-size="26.0" font-weight="bold">ESPC : 2025-11-25T06:00Z</text>
<text x="1474.3" y="130.6" font-size="26.0" font-weight="bold">RTOFS: 2025-11-25T00:00Z</text>
<text x="1474.3" y="160.6" font-size="26.0" font-weight="bold">CMEMS: 2025-11-25T06:00Z</text>
<clipPath id="mc"><rect x="1461.5" y="195.5" width="438.0" height="240.5"/></clipPath>
<rect x="1461.5" y="195.5" width="438.0" height="240.5" fill="#97b6e1"/>
<g clip-path="url(#mc)" stroke-linejoin="round" stroke-linecap="round">
<path d="M1458.5 226.6L1461.4 226.6L1466.9 224.9L1475.4 224.0L1484.0 224.9L1489.1 223.5L1492.6 224.9L1494.3 229.1L1492.6 235.1L1487.4 241.1L1484.3 245.4L1482.3 250.6L1481.3 257.4L1479.5 264.3L1477.8 271.1L1476.1 278.0L1474.4 284.9L1472.7 291.7L1470.3 298.6L1467.7 303.7L1464.3 307.1L1462.6 308.9L1468.6 311.4L1475.4 309.2L1484.0 308.0L1494.3 307.5L1504.6 306.3L1511.4 308.0L1518.3 307.1L1525.1 308.9L1532.0 312.3L1537.1 316.1L1535.4 316.6L1540.6 319.1L1543.1 321.7L1543.7 327.7L1542.6 334.6L1540.9 341.4L1539.2 348.3L1537.1 355.1L1536.3 362.0L1535.4 368.9L1534.6 375.7L1536.3 380.9L1538.9 384.3L1542.3 389.4L1547.4 395.4L1552.6 399.7L1557.7 404.0L1562.9 407.4L1567.6 409.9L1572.6 409.5L1577.7 407.0L1582.7 404.9L1587.0 403.6L1589.9 401.1L1593.7 398.1L1597.9 399.0L1603.8 399.0L1608.9 400.2L1613.9 402.3L1619.0 405.3L1622.3 409.5L1626.6 413.7L1629.9 417.1L1632.9 420.4L1633.7 419.6L1632.5 416.2L1631.6 413.3L1635.8 411.2L1640.0 407.8L1643.0 403.6L1646.8 400.6L1650.6 399.4L1651.4 396.0L1650.6 389.4L1653.1 384.3L1657.4 380.0L1661.7 377.4L1665.1 380.0L1666.9 382.6L1669.4 378.3L1672.0 374.0L1678.0 374.3L1683.1 373.1L1688.3 370.2L1693.4 368.0L1698.6 365.4L1699.9 361.1L1704.6 358.2L1709.7 358.6L1714.0 361.1L1713.7 364.6L1709.7 368.0L1704.6 369.2L1701.7 371.4L1703.7 375.7L1706.3 380.0L1708.9 380.0L1713.1 378.3L1719.1 375.7L1726.0 373.1L1731.2 371.9L1736.3 371.9L1743.2 372.6L1749.2 374.9L1753.4 379.1L1755.2 384.3L1752.0 380.0L1754.6 384.3L1760.6 385.1L1769.1 384.3L1777.7 383.4L1783.7 384.3L1788.0 388.6L1794.9 390.8L1801.7 391.1L1806.9 388.6L1812.0 386.0L1818.9 384.3L1825.7 383.4L1832.6 383.1L1841.1 382.6L1849.7 382.2L1850.1 384.6L1844.6 385.3L1837.7 385.7L1832.6 386.0L1834.3 391.1L1837.7 394.6L1844.6 395.4L1850.6 398.0L1854.9 401.4L1858.3 406.6L1860.9 411.7L1865.1 413.4L1872.0 415.1L1878.9 417.7L1885.7 422.9L1890.9 428.9L1893.4 436.1L1893.4 439.2L1624.0 439.0L1622.3 435.6L1619.0 432.2L1616.4 428.9L1613.9 425.5L1611.4 422.1L1612.2 419.6L1611.4 416.2L1608.9 413.3L1605.5 409.9L1602.1 407.8L1598.8 406.5L1595.4 407.4L1593.3 409.5L1591.2 412.0L1588.6 414.5L1585.3 416.2L1582.3 417.9L1581.5 420.4L1584.4 423.8L1587.8 426.8L1588.2 428.9L1584.4 430.5L1580.2 432.7L1576.4 432.7L1575.2 430.5L1574.3 425.5L1572.6 423.4L1571.0 425.9L1569.3 428.0L1566.7 425.5L1563.4 422.1L1560.0 419.6L1558.6 418.6L1553.4 416.9L1549.1 419.4L1545.7 416.9L1540.6 414.3L1537.1 411.7L1534.6 407.4L1530.3 403.1L1525.1 399.7L1520.9 396.3L1516.6 398.0L1513.1 394.6L1508.9 393.7L1506.3 390.3L1507.1 386.0L1506.3 380.9L1504.9 377.8L1501.1 372.3L1496.0 366.3L1490.0 359.4L1484.0 352.6L1478.9 348.3L1470.3 347.4L1461.4 345.7L1458.5 345.7ZM1520.2 219.3L1526.5 213.2L1531.3 208.7L1537.9 205.1L1546.0 202.6L1554.6 200.4L1562.7 200.7L1569.8 201.3L1575.3 199.6L1580.9 199.9L1586.5 201.8L1592.2 205.1L1596.6 208.3L1602.1 210.0L1607.2 209.5L1612.7 211.4L1620.0 214.7L1623.4 216.7L1626.4 220.2L1632.5 225.3L1638.5 228.3L1644.6 230.8L1650.7 232.2L1651.7 234.9L1648.6 236.9L1654.7 236.9L1660.8 237.4L1665.8 240.4L1669.9 243.0L1671.4 244.5L1669.9 246.0L1664.8 247.0L1659.8 248.5L1655.7 249.5L1650.7 248.3L1644.6 247.5L1638.5 248.0L1632.5 249.0L1625.4 249.7L1620.3 250.1L1622.4 247.0L1626.4 244.0L1629.9 241.0L1627.9 237.9L1623.4 236.4L1620.0 235.6L1615.8 236.0L1611.2 234.4L1608.7 230.4L1606.7 226.9L1604.7 225.1L1596.1 224.3L1588.0 221.3L1582.4 217.8L1575.3 217.8L1570.8 216.2L1563.2 215.7L1560.7 213.7L1564.7 212.0L1564.7 209.2L1560.7 207.9L1552.6 207.9L1548.3 209.7L1541.5 214.0L1534.4 217.0L1529.3 219.5ZM1546.0 221.5L1548.3 220.3L1550.6 221.1L1551.1 223.3L1549.3 225.1L1546.7 224.5L1545.5 223.1ZM1611.1 272.9L1614.6 270.8L1621.4 269.8L1628.3 270.3L1634.3 272.0L1639.4 274.2L1642.3 277.1L1641.1 279.4L1636.0 279.7L1631.7 281.4L1629.1 281.8L1625.7 279.7L1621.4 278.9L1617.1 276.3L1612.9 274.6ZM1681.0 251.9L1683.7 249.6L1688.3 247.3L1691.9 247.8L1695.6 250.5L1700.2 251.9L1704.7 251.4L1706.5 249.1L1712.0 249.1L1716.6 248.9L1722.1 250.7L1726.6 252.3L1730.7 252.8L1732.1 256.4L1734.4 259.6L1737.6 261.0L1742.1 261.7L1746.7 263.5L1751.3 266.5L1753.3 269.2L1751.7 271.5L1750.4 274.2L1747.6 275.2L1746.3 272.6L1740.8 271.3L1734.8 271.7L1729.8 273.2L1725.7 273.8L1723.0 274.7L1720.2 272.4L1716.1 275.2L1712.9 278.8L1709.7 283.4L1707.5 284.7L1706.1 280.6L1704.7 275.6L1702.9 273.8L1698.3 273.8L1692.9 274.4L1687.4 275.2L1681.9 275.6L1678.3 277.2L1674.6 276.5L1671.0 273.8L1666.8 272.0L1666.4 269.2L1670.0 267.9L1675.5 268.3L1681.0 269.5L1687.4 270.6L1692.9 270.8L1696.1 269.2L1696.5 266.9L1692.9 263.8L1691.0 260.6L1691.0 256.9L1689.2 254.6L1685.6 253.3L1681.9 252.8ZM1768.6 271.1L1774.1 269.9L1781.4 270.1L1787.8 270.8L1791.0 271.7L1792.3 273.3L1791.4 276.1L1787.8 277.9L1781.4 278.6L1774.1 278.8L1769.5 278.6L1768.4 275.2ZM1677.8 232.6L1679.5 230.8L1682.5 230.3L1685.6 231.1L1685.0 233.2L1682.0 234.2L1678.5 233.9ZM1849.7 382.2L1856.9 381.7L1856.2 391.5L1844.6 392.5L1848.9 390.3ZM1726.9 362.9L1730.3 361.7L1733.2 364.6L1732.5 368.9L1730.8 371.9L1728.6 371.4L1726.0 368.0Z" fill="#d2b48c" stroke="#000" stroke-width="2.4"/>
<path d="M1570.8 201.3L1575.3 200.3L1580.9 200.9L1586.5 202.9L1592.2 206.3L1596.6 209.7L1602.1 211.4L1607.2 211.2L1612.7 213.2L1620.0 216.4M1590.0 205.1L1596.1 208.1L1603.1 209.9L1610.2 210.9L1616.3 213.1L1620.3 216.7L1625.4 220.7L1631.5 225.8L1637.5 228.8L1644.6 231.5" fill="none" stroke="#000" stroke-width="4.2"/>
<path d="M1596.1 230.3L1602.1 233.9L1607.2 236.9L1612.2 239.4M1596.1 230.9L1603.1 234.9L1611.2 238.5L1620.0 240.5M1554.6 222.8L1562.7 222.5L1570.8 222.1M1518.2 219.5L1527.3 217.4M1536.9 218.1L1540.4 218.8M1556.6 210.2L1564.7 210.2M1561.7 214.2L1570.8 214.7M1853.1 350.9L1849.7 357.7L1845.9 364.6" fill="none" stroke="#000" stroke-width="2.6"/>
<path d="M1707.5 380.9L1708.5 386.0L1707.1 389.4L1703.7 392.0L1700.3 395.9L1701.1 399.7L1704.6 403.1L1707.1 406.6L1711.4 406.2L1714.9 403.1L1715.4 398.9L1714.0 393.7L1711.4 389.4L1709.7 385.1L1709.2 380.9Z" fill="#97b6e1" stroke="#000" stroke-width="2.0"/>
<path d="M1496.0 358.9L1499.8 358.9L1505.4 362.9L1511.4 367.1L1517.4 372.3L1520.3 376.1L1516.6 376.1L1511.4 374.0L1506.3 370.6L1504.9 366.3L1501.1 363.7L1496.9 360.6Z" fill="#b4c1d6" stroke="none"/>
<path d="M1589.1 402.1L1595.4 408.6M1495.1 341.4L1501.1 343.1L1506.3 339.7L1508.0 337.1M1516.6 326.9L1520.0 324.3L1525.1 326.9L1532.0 324.3L1538.9 321.7L1544.0 320.9M1508.9 377.1L1514.9 378.8L1521.7 378.3L1528.6 381.7L1535.4 382.6M1661.7 378.3L1660.5 386.0L1660.9 394.6L1664.3 401.4L1669.4 404.9L1674.6 408.3L1676.3 416.9L1675.4 425.4L1674.6 436.1M1770.9 436.1L1779.4 428.0L1791.4 422.9L1801.7 426.3L1806.9 422.0L1813.7 422.3L1824.0 417.7L1832.6 415.1L1841.1 411.7L1848.0 412.6L1854.9 408.3M1841.1 411.7L1842.0 406.6L1837.7 400.6L1838.6 396.3M1842.0 406.6L1846.3 398.9" fill="none" stroke="#97b6e1" stroke-width="1.7"/>
<path d="M1480.6 346.6L1485.7 350.0L1491.7 345.7L1494.3 339.7L1501.1 336.3L1506.3 335.4L1511.4 332.9L1516.6 326.9L1520.0 324.3L1525.1 326.9L1532.0 324.3L1538.9 321.7L1544.0 320.9M1461.4 332.9L1466.9 335.4L1472.9 336.3L1477.1 338.0L1479.7 341.4L1480.6 346.6M1461.4 318.3L1466.9 314.9M1508.9 377.1L1514.9 378.8L1521.7 378.3L1528.6 381.7L1535.4 382.6M1546.6 401.4L1546.6 406.6L1549.1 410.0L1547.4 413.4M1625.3 414.1L1628.2 420.4L1625.7 423.8L1622.3 427.6L1619.4 425.9M1699.4 374.9L1693.4 377.4L1690.0 382.6L1688.3 389.4L1686.6 396.3L1683.1 403.1L1688.3 404.9L1691.7 410.0L1695.1 416.9L1695.1 423.7L1696.9 430.6L1700.3 434.9L1708.9 435.4L1722.6 434.9M1872.0 416.9L1867.7 421.1L1862.6 423.7L1860.9 428.9L1863.4 434.0M1705.2 251.9L1705.2 257.8L1704.7 262.4L1702.4 268.8L1704.3 271.5L1705.6 275.2" fill="none" stroke="#000" stroke-width="1.7" stroke-dasharray="5 2.6" stroke-linecap="butt"/>
<path d="M1685.6 230.8L1687.1 227.8L1687.9 224.8M1661.3 204.6L1660.8 203.0L1656.7 200.5L1650.7 201.0L1646.6 204.6L1646.1 209.1L1648.1 214.2L1649.2 216.2M1667.9 205.6L1673.9 207.1L1674.9 210.1L1670.9 214.2L1667.9 216.2M1667.9 205.6L1669.9 208.6L1671.9 209.6M1694.7 223.3L1698.2 219.7L1702.2 218.2L1706.3 220.7L1709.3 224.3L1707.3 228.3L1704.8 229.8" fill="none" stroke="#000" stroke-width="2.0"/>
<ellipse cx="1491.2" cy="240.6" rx="1.5" ry="2.4" stroke="#000" stroke-width="0.7" transform="rotate(25 1491.2 240.6)"/>
<ellipse cx="1480.6" cy="254.0" rx="1.7" ry="2.7" stroke="#000" stroke-width="0.7" transform="rotate(10 1480.6 254.0)"/>
<ellipse cx="1472.0" cy="267.7" rx="3.4" ry="4.8" stroke="#000" stroke-width="0.7" transform="rotate(15 1472.0 267.7)"/>
<ellipse cx="1475.4" cy="284.9" rx="2.2" ry="3.4" stroke="#000" stroke-width="0.7" transform="rotate(10 1475.4 284.9)"/>
<ellipse cx="1471.7" cy="295.1" rx="1.4" ry="2.4" stroke="#000" stroke-width="0.7" transform="rotate(0 1471.7 295.1)"/>
<ellipse cx="1490.0" cy="305.4" rx="1.5" ry="1.2" stroke="#000" stroke-width="0.7" transform="rotate(0 1490.0 305.4)"/>
<ellipse cx="1498.6" cy="301.7" rx="3.8" ry="1.2" stroke="#000" stroke-width="0.7" transform="rotate(-12 1498.6 301.7)"/>
<ellipse cx="1505.4" cy="299.9" rx="1.5" ry="1.4" stroke="#000" stroke-width="0.7" transform="rotate(0 1505.4 299.9)"/>
<ellipse cx="1570.6" cy="257.8" rx="3.1" ry="1.7" stroke="#000" stroke-width="0.7" transform="rotate(0 1570.6 257.8)"/>
<ellipse cx="1589.4" cy="252.3" rx="3.4" ry="1.0" stroke="#000" stroke-width="0.7" transform="rotate(-10 1589.4 252.3)"/>
<ellipse cx="1548.5" cy="214.0" rx="1.0" ry="0.9" stroke="#000" stroke-width="0.7" transform="rotate(0 1548.5 214.0)"/>
<ellipse cx="1546.7" cy="216.7" rx="0.9" ry="0.9" stroke="#000" stroke-width="0.7" transform="rotate(0 1546.7 216.7)"/>
<ellipse cx="1543.5" cy="220.8" rx="1.0" ry="1.4" stroke="#000" stroke-width="0.7" transform="rotate(0 1543.5 220.8)"/>
<ellipse cx="1554.6" cy="210.2" rx="0.8" ry="0.6" stroke="#000" stroke-width="0.7" transform="rotate(0 1554.6 210.2)"/>
<ellipse cx="1677.0" cy="201.0" rx="1.2" ry="1.2" stroke="#000" stroke-width="0.7" transform="rotate(0 1677.0 201.0)"/>
<ellipse cx="1679.0" cy="208.6" rx="1.2" ry="0.8" stroke="#000" stroke-width="0.7" transform="rotate(0 1679.0 208.6)"/>
<ellipse cx="1688.1" cy="211.9" rx="3.2" ry="1.0" stroke="#000" stroke-width="0.7" transform="rotate(12 1688.1 211.9)"/>
<ellipse cx="1713.1" cy="226.6" rx="0.9" ry="2.6" stroke="#000" stroke-width="0.7" transform="rotate(15 1713.1 226.6)"/>
<ellipse cx="1686.5" cy="265.1" rx="4.0" ry="1.4" stroke="#000" stroke-width="0.7" transform="rotate(25 1686.5 265.1)"/>
<ellipse cx="1738.0" cy="258.9" rx="3.5" ry="2.0" stroke="#000" stroke-width="0.7" transform="rotate(0 1738.0 258.9)"/>
<ellipse cx="1748.4" cy="275.0" rx="1.1" ry="1.1" stroke="#000" stroke-width="0.7" transform="rotate(0 1748.4 275.0)"/>
<ellipse cx="1689.2" cy="246.9" rx="2.0" ry="0.9" stroke="#000" stroke-width="0.7" transform="rotate(0 1689.2 246.9)"/>
<ellipse cx="1605.2" cy="231.5" rx="1.6" ry="1.0" stroke="#000" stroke-width="0.7" transform="rotate(0 1605.2 231.5)"/>
<ellipse cx="1618.8" cy="240.4" rx="1.4" ry="0.8" stroke="#000" stroke-width="0.7" transform="rotate(0 1618.8 240.4)"/>
<ellipse cx="1605.2" cy="225.8" rx="1.2" ry="1.0" stroke="#000" stroke-width="0.7" transform="rotate(0 1605.2 225.8)"/>
<ellipse cx="1759.3" cy="276.3" rx="0.9" ry="0.9" stroke="#000" stroke-width="0.7" transform="rotate(0 1759.3 276.3)"/>
<ellipse cx="1794.2" cy="274.1" rx="1.1" ry="0.9" stroke="#000" stroke-width="0.7" transform="rotate(0 1794.2 274.1)"/>
<ellipse cx="1804.4" cy="271.1" rx="5.3" ry="0.8" stroke="#000" stroke-width="0.7" transform="rotate(-14 1804.4 271.1)"/>
<ellipse cx="1809.5" cy="266.8" rx="0.9" ry="0.9" stroke="#000" stroke-width="0.7" transform="rotate(0 1809.5 266.8)"/>
<ellipse cx="1804.0" cy="281.4" rx="2.6" ry="0.8" stroke="#000" stroke-width="0.7" transform="rotate(-5 1804.0 281.4)"/>
<ellipse cx="1827.4" cy="274.6" rx="2.4" ry="2.6" stroke="#000" stroke-width="0.7" transform="rotate(-30 1827.4 274.6)"/>
<ellipse cx="1830.5" cy="278.5" rx="1.4" ry="1.4" stroke="#000" stroke-width="0.7" transform="rotate(0 1830.5 278.5)"/>
<ellipse cx="1825.2" cy="282.8" rx="0.9" ry="0.9" stroke="#000" stroke-width="0.7" transform="rotate(0 1825.2 282.8)"/>
<ellipse cx="1831.7" cy="287.4" rx="4.1" ry="1.2" stroke="#000" stroke-width="0.7" transform="rotate(38 1831.7 287.4)"/>
<ellipse cx="1839.8" cy="296.2" rx="1.4" ry="1.5" stroke="#000" stroke-width="0.7" transform="rotate(0 1839.8 296.2)"/>
<ellipse cx="1845.1" cy="282.8" rx="1.7" ry="1.9" stroke="#000" stroke-width="0.7" transform="rotate(0 1845.1 282.8)"/>
<ellipse cx="1845.4" cy="291.2" rx="2.2" ry="1.9" stroke="#000" stroke-width="0.7" transform="rotate(0 1845.4 291.2)"/>
<ellipse cx="1849.7" cy="303.7" rx="4.8" ry="3.4" stroke="#000" stroke-width="0.7" transform="rotate(-20 1849.7 303.7)"/>
<ellipse cx="1853.1" cy="307.5" rx="1.7" ry="1.7" stroke="#000" stroke-width="0.7" transform="rotate(0 1853.1 307.5)"/>
<ellipse cx="1851.4" cy="313.1" rx="1.9" ry="2.4" stroke="#000" stroke-width="0.7" transform="rotate(0 1851.4 313.1)"/>
<ellipse cx="1481.4" cy="346.6" rx="2.7" ry="2.4" stroke="#000" stroke-width="0.7" transform="rotate(0 1481.4 346.6)"/>
<ellipse cx="1505.9" cy="380.5" rx="1.4" ry="1.7" stroke="#000" stroke-width="0.7" transform="rotate(0 1505.9 380.5)"/>
<ellipse cx="1516.6" cy="392.9" rx="3.4" ry="2.4" stroke="#000" stroke-width="0.7" transform="rotate(30 1516.6 392.9)"/>
<ellipse cx="1538.9" cy="412.6" rx="2.4" ry="1.7" stroke="#000" stroke-width="0.7" transform="rotate(30 1538.9 412.6)"/>
<ellipse cx="1547.4" cy="418.6" rx="2.1" ry="2.4" stroke="#000" stroke-width="0.7" transform="rotate(0 1547.4 418.6)"/>
<ellipse cx="1602.5" cy="415.8" rx="2.5" ry="3.4" stroke="#000" stroke-width="0.7" transform="rotate(-10 1602.5 415.8)"/>
<ellipse cx="1563.4" cy="428.9" rx="2.1" ry="3.4" stroke="#000" stroke-width="0.7" transform="rotate(0 1563.4 428.9)"/>
<ellipse cx="1572.2" cy="425.9" rx="1.7" ry="2.5" stroke="#000" stroke-width="0.7" transform="rotate(0 1572.2 425.9)"/>
<ellipse cx="1613.9" cy="416.2" rx="3.2" ry="1.9" stroke="#000" stroke-width="0.7" transform="rotate(20 1613.9 416.2)"/>
<ellipse cx="1633.3" cy="421.3" rx="1.9" ry="1.9" stroke="#000" stroke-width="0.7" transform="rotate(0 1633.3 421.3)"/>
<ellipse cx="1561.7" cy="404.9" rx="2.1" ry="1.5" stroke="#000" stroke-width="0.7" transform="rotate(0 1561.7 404.9)"/>
<ellipse cx="1569.2" cy="345.2" rx="1.4" ry="1.4" stroke="#000" stroke-width="0.7" transform="rotate(0 1569.2 345.2)"/>
<ellipse cx="1564.6" cy="356.5" rx="1.5" ry="1.5" stroke="#000" stroke-width="0.7" transform="rotate(0 1564.6 356.5)"/>
<ellipse cx="1546.6" cy="329.1" rx="1.0" ry="1.0" stroke="#000" stroke-width="0.7" transform="rotate(0 1546.6 329.1)"/>
<ellipse cx="1550.0" cy="331.1" rx="1.4" ry="1.2" stroke="#000" stroke-width="0.7" transform="rotate(0 1550.0 331.1)"/>
<ellipse cx="1548.3" cy="333.5" rx="0.9" ry="0.9" stroke="#000" stroke-width="0.7" transform="rotate(0 1548.3 333.5)"/>
<ellipse cx="1551.5" cy="328.1" rx="0.7" ry="0.7" stroke="#000" stroke-width="0.7" transform="rotate(0 1551.5 328.1)"/>
<ellipse cx="1552.6" cy="319.1" rx="0.9" ry="1.0" stroke="#000" stroke-width="0.7" transform="rotate(0 1552.6 319.1)"/>
<ellipse cx="1550.2" cy="317.1" rx="0.7" ry="0.7" stroke="#000" stroke-width="0.7" transform="rotate(0 1550.2 317.1)"/>
<ellipse cx="1545.7" cy="324.3" rx="0.5" ry="0.5" stroke="#000" stroke-width="0.7" transform="rotate(0 1545.7 324.3)"/>
<ellipse cx="1553.4" cy="332.0" rx="0.5" ry="0.5" stroke="#000" stroke-width="0.7" transform="rotate(0 1553.4 332.0)"/>
<ellipse cx="1538.0" cy="356.0" rx="1.7" ry="3.4" stroke="#000" stroke-width="0.7" transform="rotate(10 1538.0 356.0)"/>
<ellipse cx="1532.9" cy="315.7" rx="3.1" ry="1.7" stroke="#000" stroke-width="0.7" transform="rotate(0 1532.9 315.7)"/>
<ellipse cx="1666.3" cy="381.2" rx="1.7" ry="2.4" stroke="#000" stroke-width="0.7" transform="rotate(-20 1666.3 381.2)"/>
<ellipse cx="1729.8" cy="356.9" rx="1.5" ry="2.1" stroke="#000" stroke-width="0.7" transform="rotate(20 1729.8 356.9)"/>
<ellipse cx="1744.0" cy="361.1" rx="4.3" ry="1.2" stroke="#000" stroke-width="0.7" transform="rotate(32 1744.0 361.1)"/>
<ellipse cx="1753.4" cy="362.0" rx="2.1" ry="1.4" stroke="#000" stroke-width="0.7" transform="rotate(20 1753.4 362.0)"/>
<ellipse cx="1648.0" cy="391.1" rx="1.4" ry="2.1" stroke="#000" stroke-width="0.7" transform="rotate(0 1648.0 391.1)"/>
<ellipse cx="1753.4" cy="362.0" rx="2.1" ry="2.1" stroke="#000" stroke-width="0.7" transform="rotate(0 1753.4 362.0)"/>
<ellipse cx="1763.7" cy="364.9" rx="2.1" ry="0.7" stroke="#000" stroke-width="0.7" transform="rotate(15 1763.7 364.9)"/>
<ellipse cx="1775.7" cy="366.6" rx="3.1" ry="2.1" stroke="#000" stroke-width="0.7" transform="rotate(0 1775.7 366.6)"/>
<ellipse cx="1784.1" cy="367.5" rx="1.4" ry="1.4" stroke="#000" stroke-width="0.7" transform="rotate(0 1784.1 367.5)"/>
<ellipse cx="1806.5" cy="367.1" rx="2.1" ry="1.0" stroke="#000" stroke-width="0.7" transform="rotate(20 1806.5 367.1)"/>
<ellipse cx="1795.7" cy="380.0" rx="2.1" ry="1.7" stroke="#000" stroke-width="0.7" transform="rotate(0 1795.7 380.0)"/>
<ellipse cx="1813.7" cy="379.7" rx="5.1" ry="2.7" stroke="#000" stroke-width="0.7" transform="rotate(-15 1813.7 379.7)"/>
<ellipse cx="1826.9" cy="373.5" rx="1.4" ry="1.4" stroke="#000" stroke-width="0.7" transform="rotate(0 1826.9 373.5)"/>
<ellipse cx="1851.4" cy="315.7" rx="1.9" ry="2.4" stroke="#000" stroke-width="0.7" transform="rotate(0 1851.4 315.7)"/>
<ellipse cx="1856.2" cy="326.3" rx="2.7" ry="3.9" stroke="#000" stroke-width="0.7" transform="rotate(-10 1856.2 326.3)"/>
<ellipse cx="1857.4" cy="336.8" rx="2.1" ry="3.4" stroke="#000" stroke-width="0.7" transform="rotate(0 1857.4 336.8)"/>
<ellipse cx="1854.2" cy="346.6" rx="1.7" ry="2.7" stroke="#000" stroke-width="0.7" transform="rotate(10 1854.2 346.6)"/>
<ellipse cx="1846.6" cy="363.7" rx="1.5" ry="1.7" stroke="#000" stroke-width="0.7" transform="rotate(0 1846.6 363.7)"/>
<ellipse cx="1877.2" cy="347.4" rx="2.4" ry="2.6" stroke="#000" stroke-width="0.7" transform="rotate(0 1877.2 347.4)"/>
<ellipse cx="1861.4" cy="375.4" rx="3.4" ry="1.5" stroke="#000" stroke-width="0.7" transform="rotate(-28 1861.4 375.4)"/>
<ellipse cx="1858.3" cy="407.4" rx="2.1" ry="5.1" stroke="#000" stroke-width="0.7" transform="rotate(-15 1858.3 407.4)"/>
<circle cx="1475.4" cy="385.5" r="6.2" fill="#0000ff"/>
</g>
<rect x="1461.5" y="195.5" width="438.0" height="240.5" fill="none" stroke="#000" stroke-width="1.4"/>
<path d="M1461.9 195.5v-3.6M1461.9 436.0v2.9M1476.0 195.5v-3.6M1476.0 436.0v2.9M1490.2 195.5v-3.6M1490.2 436.0v2.9M1504.3 195.5v-3.6M1504.3 436.0v2.9M1532.5 195.5v-3.6M1532.5 436.0v2.9M1546.6 195.5v-3.6M1546.6 436.0v2.9M1560.8 195.5v-3.6M1560.8 436.0v2.9M1574.9 195.5v-3.6M1574.9 436.0v2.9M1603.1 195.5v-3.6M1603.1 436.0v2.9M1617.2 195.5v-3.6M1617.2 436.0v2.9M1631.4 195.5v-3.6M1631.4 436.0v2.9M1645.5 195.5v-3.6M1645.5 436.0v2.9M1673.7 195.5v-3.6M1673.7 436.0v2.9M1687.8 195.5v-3.6M1687.8 436.0v2.9M1702.0 195.5v-3.6M1702.0 436.0v2.9M1716.1 195.5v-3.6M1716.1 436.0v2.9M1744.3 195.5v-3.6M1744.3 436.0v2.9M1758.4 195.5v-3.6M1758.4 436.0v2.9M1772.6 195.5v-3.6M1772.6 436.0v2.9M1786.7 195.5v-3.6M1786.7 436.0v2.9M1814.9 195.5v-3.6M1814.9 436.0v2.9M1829.0 195.5v-3.6M1829.0 436.0v2.9M1843.2 195.5v-3.6M1843.2 436.0v2.9M1857.3 195.5v-3.6M1857.3 436.0v2.9M1885.5 195.5v-3.6M1885.5 436.0v2.9M1899.6 195.5v-3.6M1899.6 436.0v2.9M1461.5 436.0h-3.6M1899.5 436.0h2.9M1461.5 421.9h-3.6M1899.5 421.9h2.9M1461.5 407.7h-3.6M1899.5 407.7h2.9M1461.5 378.9h-3.6M1899.5 378.9h2.9M1461.5 364.6h-3.6M1899.5 364.6h2.9M1461.5 350.3h-3.6M1899.5 350.3h2.9M1461.5 336.2h-3.6M1899.5 336.2h2.9M1461.5 306.9h-3.6M1899.5 306.9h2.9M1461.5 292.5h-3.6M1899.5 292.5h2.9M1461.5 277.9h-3.6M1899.5 277.9h2.9M1461.5 263.3h-3.6M1899.5 263.3h2.9M1461.5 233.0h-3.6M1899.5 233.0h2.9M1461.5 217.9h-3.6M1899.5 217.9h2.9M1461.5 202.9h-3.6M1899.5 202.9h2.9" stroke="#000" stroke-width="1.8" fill="none"/>
<path d="M1518.4 195.5v-9.2M1518.4 436.0v9.2M1589.0 195.5v-9.2M1589.0 436.0v9.2M1659.6 195.5v-9.2M1659.6 436.0v9.2M1730.2 195.5v-9.2M1730.2 436.0v9.2M1800.8 195.5v-9.2M1800.8 436.0v9.2M1871.4 195.5v-9.2M1871.4 436.0v9.2M1461.5 393.4h-9.2M1899.5 393.4h9.2M1461.5 322.3h-9.2M1899.5 322.3h9.2M1461.5 248.5h-9.2M1899.5 248.5h9.2" stroke="#000" stroke-width="3.2" fill="none"/>
<text x="1518.4" y="461.4" font-size="14.0" text-anchor="middle">85°W</text>
<text x="1589.0" y="461.4" font-size="14.0" text-anchor="middle">80°W</text>
<text x="1659.6" y="461.4" font-size="14.0" text-anchor="middle">75°W</text>
<text x="1730.2" y="461.4" font-size="14.0" text-anchor="middle">70°W</text>
<text x="1800.8" y="461.4" font-size="14.0" text-anchor="middle">65°W</text>
<text x="1871.4" y="461.4" font-size="14.0" text-anchor="middle">60°W</text>
<text x="1445.6" y="398.6" font-size="14.0" text-anchor="end">10°N</text>
<text x="1445.6" y="327.5" font-size="14.0" text-anchor="end">15°N</text>
<text x="1445.6" y="253.7" font-size="14.0" text-anchor="end">20°N</text>
<rect x="1514.9" y="485.0" width="330.8" height="128.5" rx="3.5" fill="#fff" stroke="#d5d5d5" stroke-width="1.7"/>
<path d="M1522 503.5H1566.8" stroke="#0000ff" stroke-width="2.60"/><circle cx="1544.4" cy="503.5" r="6.15" fill="#0000ff"/>
<text x="1582.2" y="510.3" font-size="20.8">3901300 [-88.04, 10.61]</text>
<path d="M1522 533.4H1566.8" stroke="#008000" stroke-width="2.60"/><circle cx="1544.4" cy="533.4" r="6.15" fill="#008000"/>
<text x="1582.2" y="539.9" font-size="20.8">ESPC [-88.08, 10.6]</text>
<path d="M1522 563.3H1566.8" stroke="#ff0000" stroke-width="2.60"/><circle cx="1544.4" cy="563.3" r="6.15" fill="#ff0000"/>
<text x="1582.2" y="570.0" font-size="20.8">RTOFS [-88.08, 10.58]</text>
<path d="M1522 594.0H1566.8" stroke="#ff00ff" stroke-width="2.60"/><circle cx="1544.4" cy="594.0" r="6.15" fill="#ff00ff"/>
<text x="1582.2" y="600.6" font-size="20.8">CMEMS [-88.00, 10.58]</text>
</svg>
</body></html>
